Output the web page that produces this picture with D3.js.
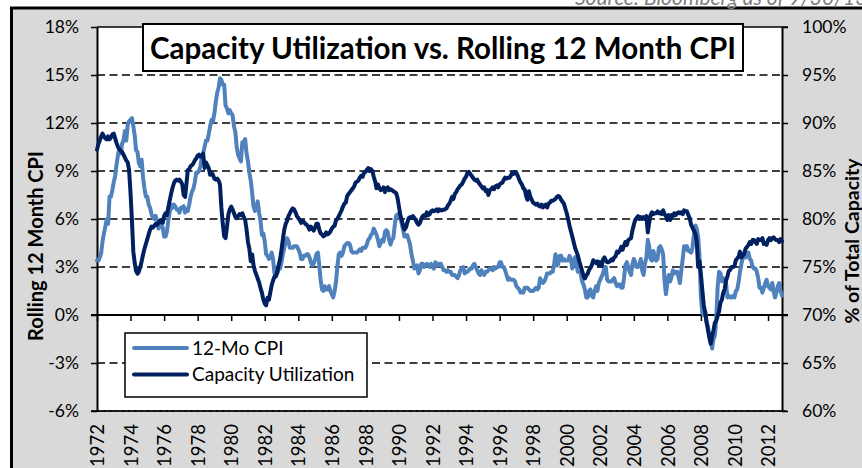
<!DOCTYPE html>
<html>
<head>
<meta charset="utf-8">
<script src="https://cdn.jsdelivr.net/npm/d3@7"></script>
<style>
  html, body { margin: 0; padding: 0; background: #fff; }
  svg { display: block; font-family: Lato, "Open Sans", sans-serif; }
</style>
</head>
<body>
<svg id="chart" width="862" height="468"></svg>
<script>
// ---- Data: monthly, starting November 1972 ----
const seriesStart = "1972-11";

// CPI, year-over-year % change
const cpi = [
  3.4, 3.4,                                                        // 1972 (Nov-Dec)
  3.6, 3.9, 4.6, 5.1, 5.5, 6.0, 5.7, 7.4, 7.4, 7.8, 8.3, 8.7,      // 1973
  9.4, 10.0, 10.4, 10.1, 10.7, 10.9, 11.5, 10.9, 11.9, 12.1, 12.2, 12.3, // 1974
  11.8, 11.2, 10.3, 10.2, 9.5, 9.3, 9.7, 8.6, 7.9, 7.4, 7.4, 6.9,  // 1975
  6.7, 6.3, 6.1, 6.0, 6.2, 5.9, 5.4, 5.7, 5.5, 5.5, 4.9, 4.9,      // 1976
  5.2, 5.9, 6.4, 6.9, 6.7, 6.9, 6.8, 6.6, 6.6, 6.4, 6.7, 6.7,      // 1977
  6.8, 6.4, 6.6, 6.5, 6.9, 7.4, 7.7, 7.9, 8.3, 8.9, 8.9, 9.0,      // 1978
  9.3, 9.9, 10.1, 10.5, 10.9, 10.9, 11.3, 11.8, 12.2, 12.1, 12.6, 13.3, // 1979
  13.9, 14.2, 14.8, 14.7, 14.4, 14.4, 13.1, 12.9, 12.6, 12.8, 12.6, 12.5, // 1980
  11.8, 11.4, 10.5, 10.0, 9.8, 9.6, 10.8, 10.8, 11.0, 10.1, 9.6, 8.9, // 1981
  8.4, 7.6, 6.8, 6.5, 6.7, 7.1, 6.4, 5.9, 5.0, 5.1, 4.6, 3.8,      // 1982
  3.7, 3.5, 3.6, 3.9, 3.5, 2.6, 2.5, 2.6, 2.9, 2.9, 3.3, 3.8,      // 1983
  4.2, 4.6, 4.8, 4.6, 4.2, 4.2, 4.2, 4.3, 4.3, 4.3, 4.1, 3.9,      // 1984
  3.5, 3.5, 3.7, 3.7, 3.8, 3.8, 3.6, 3.3, 3.1, 3.2, 3.5, 3.8,      // 1985
  3.9, 3.1, 2.2, 1.6, 1.5, 1.8, 1.6, 1.6, 1.8, 1.5, 1.3, 1.1,      // 1986
  1.5, 2.1, 3.0, 3.8, 3.9, 3.7, 3.9, 4.3, 4.4, 4.5, 4.5, 4.4,      // 1987
  4.0, 3.9, 3.9, 3.9, 3.9, 4.0, 4.1, 4.0, 4.2, 4.2, 4.2, 4.4,      // 1988
  4.7, 4.8, 5.0, 5.1, 5.4, 5.2, 5.0, 4.7, 4.3, 4.5, 4.7, 4.6,      // 1989
  5.2, 5.3, 5.2, 4.7, 4.4, 4.7, 4.8, 5.6, 6.2, 6.3, 6.3, 6.1,      // 1990
  5.7, 5.3, 4.9, 4.9, 5.0, 4.7, 4.4, 3.8, 3.4, 2.9, 3.0, 3.1,      // 1991
  2.6, 2.8, 3.2, 3.2, 3.0, 3.1, 3.2, 3.1, 3.0, 3.2, 3.0, 2.9,      // 1992
  3.3, 3.2, 3.1, 3.2, 3.2, 3.0, 2.8, 2.8, 2.7, 2.8, 2.7, 2.7,      // 1993
  2.5, 2.5, 2.5, 2.4, 2.3, 2.5, 2.8, 2.9, 3.0, 2.6, 2.7, 2.7,      // 1994
  2.8, 2.9, 2.9, 3.1, 3.2, 3.0, 2.8, 2.6, 2.5, 2.8, 2.6, 2.5,      // 1995
  2.7, 2.7, 2.8, 2.9, 2.9, 2.8, 3.0, 2.9, 3.0, 3.0, 3.3, 3.3,      // 1996
  3.0, 3.0, 2.8, 2.5, 2.2, 2.3, 2.2, 2.2, 2.2, 2.1, 1.8, 1.7,      // 1997
  1.6, 1.4, 1.4, 1.4, 1.7, 1.7, 1.7, 1.6, 1.5, 1.5, 1.5, 1.6,      // 1998
  1.7, 1.6, 1.7, 2.3, 2.1, 2.0, 2.1, 2.3, 2.6, 2.6, 2.6, 2.7,      // 1999
  2.7, 3.2, 3.8, 3.1, 3.2, 3.7, 3.7, 3.4, 3.5, 3.4, 3.4, 3.4,      // 2000
  3.7, 3.5, 2.9, 3.3, 3.6, 3.2, 2.7, 2.7, 2.6, 2.1, 1.9, 1.6,      // 2001
  1.1, 1.1, 1.5, 1.6, 1.2, 1.1, 1.5, 1.8, 1.5, 2.0, 2.2, 2.4,      // 2002
  2.6, 3.0, 3.0, 2.2, 2.1, 2.1, 2.1, 2.2, 2.3, 2.0, 1.8, 1.9,      // 2003
  1.9, 1.7, 1.7, 2.3, 3.1, 3.3, 3.0, 2.7, 2.5, 3.2, 3.5, 3.3,      // 2004
  3.0, 3.0, 3.1, 3.5, 2.8, 2.5, 3.2, 3.6, 4.7, 4.3, 3.5, 3.4,      // 2005
  4.0, 3.6, 3.4, 3.5, 4.2, 4.3, 4.1, 3.8, 2.1, 1.3, 2.0, 2.5,      // 2006
  2.1, 2.4, 2.8, 2.6, 2.7, 2.7, 2.4, 2.0, 2.8, 3.5, 4.3, 4.1,      // 2007
  4.3, 4.0, 4.0, 3.9, 4.2, 5.0, 5.6, 5.4, 4.9, 3.7, 1.1, 0.1,      // 2008
  0.0, 0.2, -0.4, -0.7, -1.3, -1.4, -2.1, -1.5, -1.3, -0.2, 1.8, 2.7, // 2009
  2.6, 2.1, 2.3, 2.2, 2.0, 1.1, 1.2, 1.1, 1.1, 1.2, 1.1, 1.5,      // 2010
  1.6, 2.1, 2.7, 3.2, 3.6, 3.6, 3.6, 3.8, 3.9, 3.5, 3.4, 3.0,      // 2011
  2.9, 2.9, 2.7, 2.3, 1.7, 1.7, 1.4, 1.7, 2.0, 2.2, 1.8, 1.7,      // 2012
  1.6, 2.0, 1.5, 1.1, 1.4, 1.8, 2.0, 1.5, 1.2                      // 2013 (Jan-Sep)
];

// Capacity utilization, % of total capacity
const capacity = [
  87.2, 87.8,                                                      // 1972 (Nov-Dec)
  88.2, 88.6, 88.9, 88.6, 88.4, 88.3, 88.6, 88.3, 88.5, 88.8, 88.9, 88.4, // 1973
  87.9, 87.5, 87.3, 87.1, 87.0, 86.7, 86.4, 86.1, 85.9, 85.1, 82.7, 79.9, // 1974
  76.6, 75.4, 74.6, 74.3, 74.5, 75.0, 75.6, 76.3, 76.9, 77.4, 77.9, 78.4, // 1975
  78.9, 79.2, 79.1, 79.3, 79.5, 79.4, 79.6, 79.8, 79.7, 79.6, 80.3, 80.6, // 1976
  80.4, 81.2, 81.9, 82.6, 83.2, 83.7, 84.0, 84.1, 84.0, 84.1, 83.9, 83.6, // 1977
  82.5, 82.3, 83.6, 85.1, 85.2, 85.5, 85.6, 85.8, 86.1, 86.3, 86.6, 86.7, // 1978
  86.5, 86.6, 86.8, 85.3, 85.9, 85.6, 85.3, 84.6, 84.8, 84.6, 84.2, 84.1, // 1979
  84.2, 84.0, 83.6, 81.2, 79.5, 78.2, 78.0, 79.2, 80.5, 81.0, 81.3, 81.0, // 1980
  80.6, 80.2, 80.1, 80.3, 80.5, 80.4, 80.6, 80.2, 79.9, 78.9, 77.6, 76.9, // 1981
  75.6, 76.3, 75.2, 74.6, 74.2, 73.8, 73.4, 72.8, 72.3, 71.6, 71.2, 71.0, // 1982
  71.8, 71.6, 72.3, 73.1, 73.6, 74.0, 74.0, 74.5, 75.2, 75.8, 76.8, 77.9, // 1983
  78.9, 79.5, 79.8, 80.3, 80.6, 80.9, 81.1, 81.0, 80.7, 80.3, 80.1, 79.9, // 1984
  79.6, 79.8, 79.7, 79.5, 79.4, 79.2, 78.9, 79.2, 79.0, 78.8, 79.1, 79.5, // 1985
  79.5, 78.9, 78.5, 78.4, 78.2, 78.3, 78.6, 78.4, 78.5, 78.7, 79.0, 79.2, // 1986
  79.3, 79.9, 80.0, 80.3, 80.6, 80.9, 81.3, 81.6, 81.7, 82.4, 82.6, 82.8, // 1987
  83.0, 83.2, 83.4, 83.8, 83.9, 84.0, 84.3, 84.5, 84.4, 84.8, 84.9, 85.1, // 1988
  85.3, 85.0, 85.2, 85.0, 84.4, 83.9, 83.2, 83.6, 83.2, 83.0, 83.1, 83.3, // 1989
  82.8, 83.2, 83.3, 83.0, 83.1, 83.0, 82.9, 82.8, 82.7, 82.2, 81.3, 80.4, // 1990
  79.9, 79.3, 78.9, 79.1, 79.6, 80.1, 80.2, 80.1, 80.3, 80.1, 79.9, 79.6, // 1991
  79.4, 79.6, 80.0, 80.3, 80.4, 80.3, 80.7, 80.4, 80.5, 80.8, 80.9, 80.8, // 1992
  80.9, 81.0, 80.8, 81.0, 80.9, 80.9, 81.0, 81.0, 81.1, 81.4, 81.6, 81.9, // 1993
  82.3, 82.1, 82.6, 82.8, 83.1, 83.3, 83.5, 83.6, 83.9, 84.2, 84.4, 84.8, // 1994
  84.9, 84.7, 84.5, 84.3, 84.1, 84.0, 84.1, 83.8, 83.6, 83.4, 83.2, 83.3, // 1995
  82.9, 83.0, 82.5, 83.0, 83.1, 83.3, 83.1, 83.4, 83.5, 83.3, 83.6, 83.7, // 1996
  83.8, 84.1, 84.3, 84.2, 84.3, 84.3, 84.5, 84.8, 84.7, 84.9, 84.8, 84.5, // 1997
  84.1, 83.8, 83.6, 83.2, 83.1, 82.4, 82.0, 82.9, 82.3, 82.0, 81.7, 81.6, // 1998
  81.5, 81.6, 81.4, 81.3, 81.5, 81.2, 81.4, 81.5, 81.2, 81.6, 81.7, 81.9, // 1999
  81.9, 82.0, 82.1, 82.3, 82.4, 82.3, 82.0, 81.8, 81.6, 81.1, 80.6, 80.0, // 2000
  79.3, 78.7, 78.2, 77.6, 77.0, 76.6, 76.2, 75.6, 75.1, 74.6, 74.1, 73.8, // 2001
  74.1, 74.3, 74.7, 74.9, 75.2, 75.7, 75.5, 75.4, 75.6, 75.2, 75.5, 75.1, // 2002
  75.8, 76.0, 75.7, 75.5, 75.5, 75.6, 75.8, 75.7, 76.0, 76.1, 76.6, 76.5, // 2003
  76.7, 77.1, 76.8, 77.2, 77.6, 77.3, 77.8, 77.9, 78.0, 78.8, 79.4, 79.9, // 2004
  80.1, 80.3, 80.0, 80.2, 80.0, 80.2, 80.0, 80.3, 78.6, 79.6, 80.4, 80.7, // 2005
  80.5, 80.6, 80.6, 80.8, 80.6, 80.7, 80.5, 80.9, 80.5, 80.3, 79.9, 80.4, // 2006
  79.9, 80.4, 80.3, 80.6, 80.4, 80.6, 80.7, 80.6, 80.7, 80.5, 80.9, 80.8, // 2007
  80.8, 80.4, 80.1, 79.4, 79.1, 78.8, 78.5, 77.7, 75.0, 75.6, 74.2, 72.6, // 2008
  71.0, 70.3, 69.3, 68.5, 67.7, 67.0, 67.8, 68.4, 69.2, 69.4, 69.9, 70.4, // 2009
  71.3, 71.6, 72.3, 72.7, 73.6, 74.0, 74.6, 74.7, 75.0, 75.0, 75.1, 75.7, // 2010
  75.9, 76.1, 76.6, 76.0, 76.2, 76.4, 76.9, 77.1, 77.3, 77.6, 77.4, 77.8, // 2011
  77.8, 77.6, 77.4, 77.9, 77.8, 77.8, 78.0, 77.4, 77.5, 77.3, 77.8, 78.0, // 2012
  77.8, 78.0, 78.1, 77.9, 77.8, 77.8, 77.6, 77.9, 77.7             // 2013 (Jan-Sep)
];

const cpiTicks = [-6, -3, 0, 3, 6, 9, 12, 15, 18];
const capacityTicks = [60, 65, 70, 75, 80, 85, 90, 95, 100];
const yearLabels = ["1972", "1974", "1976", "1978", "1980", "1982", "1984", "1986", "1988",
  "1990", "1992", "1994", "1996", "1998", "2000", "2002", "2004", "2006", "2008", "2010", "2012"];
const seriesNames = ["12-Mo CPI", "Capacity Utilization"];
const seriesColors = ["#4f81bd", "#002060"];
const titleText = "Capacity Utilization vs. Rolling 12 Month CPI";
const leftAxisTitle = "Rolling 12 Month CPI";
const rightAxisTitle = "% of Total Capacity";
const sourceText = "Source: Bloomberg as of 9/30/13";

// ---- Layout ----
const W = 862, H = 468;
const plot = { l: 97, r: 782, t: 27, b: 411 };

const svg = d3.select("#chart");

const t0 = d3.timeParse("%Y-%m")(seriesStart);
const dates = cpi.map((_, i) => d3.timeMonth.offset(t0, i));

const x = d3.scaleTime().domain([dates[0], dates[dates.length - 1]]).range([plot.l, plot.r]);
const yL = d3.scaleLinear().domain([-6, 18]).range([plot.b, plot.t]);
const yR = d3.scaleLinear().domain([60, 100]).range([plot.b, plot.t]);

// Page background and the grey chart frame
svg.append("rect").attr("width", W).attr("height", H).attr("fill", "#fff");
svg.append("rect")
  .attr("x", 11.5).attr("y", 8).attr("width", W + 20).attr("height", H + 20)
  .attr("fill", "#d9d9d9").attr("stroke", "#000").attr("stroke-width", 3);

// Source note, above the frame
svg.append("text")
  .attr("x", 575).attr("y", 5)
  .attr("font-size", 21).attr("font-style", "italic").attr("fill", "#7f7f7f")
  .text(sourceText);

// Plot area
svg.append("rect")
  .attr("x", plot.l).attr("y", plot.t)
  .attr("width", plot.r - plot.l).attr("height", plot.b - plot.t)
  .attr("fill", "#fff");

// Top and bottom edges of the plot area
svg.append("line").attr("x1", plot.l).attr("x2", plot.r + 6)
  .attr("y1", plot.t).attr("y2", plot.t).attr("stroke", "#000").attr("stroke-width", 1.5);
svg.append("line").attr("x1", plot.l).attr("x2", plot.r)
  .attr("y1", plot.b).attr("y2", plot.b).attr("stroke", "#000").attr("stroke-width", 1);

// Dashed gridlines
svg.append("g").selectAll("line")
  .data(cpiTicks.filter(d => d !== 0 && d !== 18))
  .join("line")
  .attr("x1", plot.l).attr("x2", plot.r)
  .attr("y1", d => yL(d)).attr("y2", d => yL(d))
  .attr("stroke", "#000").attr("stroke-width", 1.6)
  .attr("stroke-dasharray", "8,4.5");

// Left axis
const leftAxis = svg.append("g")
  .attr("transform", `translate(${plot.l},0)`)
  .call(d3.axisLeft(yL).tickValues(cpiTicks).tickSize(6).tickSizeOuter(0)
    .tickPadding(12).tickFormat(d => d + "%"));
leftAxis.select(".domain").attr("stroke", "#000").attr("stroke-width", 2);
leftAxis.selectAll(".tick line").attr("stroke", "#000").attr("stroke-width", 1.5);
leftAxis.selectAll(".tick text")
  .attr("font-family", "Lato, sans-serif").attr("font-size", 17.5).attr("fill", "#000");

// Right axis
const rightAxis = svg.append("g")
  .attr("transform", `translate(${plot.r},0)`)
  .call(d3.axisRight(yR).tickValues(capacityTicks).tickSize(6).tickSizeOuter(0)
    .tickPadding(14).tickFormat(d => d + "%"));
rightAxis.select(".domain").attr("stroke", "#000").attr("stroke-width", 2);
rightAxis.selectAll(".tick line").attr("stroke", "#000").attr("stroke-width", 1.5);
rightAxis.selectAll(".tick text")
  .attr("font-family", "Lato, sans-serif").attr("font-size", 17.5).attr("fill", "#000");

// Horizontal axis on the 0% line, with year ticks
const tickDates = yearLabels.map(y => new Date(+y, 10, 1));
const xAxis = svg.append("g")
  .attr("transform", `translate(0,${yL(0)})`)
  .call(d3.axisBottom(x).tickValues(tickDates).tickSize(6).tickSizeOuter(0).tickFormat(""));
xAxis.select(".domain").attr("stroke", "#000").attr("stroke-width", 2)
  .attr("d", `M${plot.l - 6},0H${plot.r + 6}`);
xAxis.selectAll(".tick line").attr("stroke", "#000").attr("stroke-width", 1.5);

// Year labels below the plot, rotated
const xLabels = svg.append("g")
  .attr("transform", `translate(0,${plot.b})`)
  .call(d3.axisBottom(x).tickValues(tickDates).tickSize(0).tickFormat(d3.timeFormat("%Y")));
xLabels.select(".domain").remove();
xLabels.selectAll(".tick text")
  .attr("transform", "rotate(-90)")
  .attr("text-anchor", "end")
  .attr("x", -13).attr("y", 0).attr("dy", "0.36em")
  .attr("font-family", "Lato, sans-serif").attr("font-size", 18.5).attr("fill", "#000");

// Dashed gridline over the bottom edge
svg.append("line").attr("x1", plot.l - 6).attr("x2", plot.r + 6)
  .attr("y1", plot.b).attr("y2", plot.b)
  .attr("stroke", "#000").attr("stroke-width", 1.6).attr("stroke-dasharray", "8,4.5");

// Series lines
const cpiLine = d3.line().x((d, i) => x(dates[i])).y(d => yL(d));
const capLine = d3.line().x((d, i) => x(dates[i])).y(d => yR(d));

svg.append("path").datum(cpi)
  .attr("d", cpiLine).attr("fill", "none")
  .attr("stroke", seriesColors[0]).attr("stroke-width", 4)
  .attr("stroke-linejoin", "round").attr("stroke-linecap", "round");
svg.append("path").datum(capacity)
  .attr("d", capLine).attr("fill", "none")
  .attr("stroke", seriesColors[1]).attr("stroke-width", 4)
  .attr("stroke-linejoin", "round").attr("stroke-linecap", "round");

// Title box
svg.append("rect")
  .attr("x", 143).attr("y", 24).attr("width", 600).attr("height", 47)
  .attr("fill", "#fff").attr("stroke", "#000").attr("stroke-width", 2);
svg.append("text")
  .attr("x", 443).attr("y", 48).attr("dy", "0.36em")
  .attr("text-anchor", "middle")
  .attr("font-size", 29.5).attr("font-weight", "bold").attr("fill", "#000")
  .text(titleText);

// Axis titles
svg.append("text")
  .attr("transform", "translate(42.5,246) rotate(-90)")
  .attr("text-anchor", "middle")
  .attr("font-size", 20).attr("font-weight", "bold").attr("fill", "#000")
  .text(leftAxisTitle);
svg.append("text")
  .attr("transform", "translate(858.5,241) rotate(-90)")
  .attr("text-anchor", "middle")
  .attr("font-size", 19.5).attr("font-weight", "bold").attr("fill", "#000")
  .text(rightAxisTitle);

// Legend
const legend = svg.append("g");
legend.append("rect")
  .attr("x", 125).attr("y", 333).attr("width", 242).attr("height", 64)
  .attr("fill", "#fff").attr("stroke", "#000").attr("stroke-width", 1.5);
const rows = legend.selectAll("g.row")
  .data(seriesNames)
  .join("g").attr("class", "row")
  .attr("transform", (d, i) => `translate(0,${348 + i * 26.5})`);
rows.append("line")
  .attr("x1", 134).attr("x2", 187)
  .attr("stroke", (d, i) => seriesColors[i]).attr("stroke-width", 4)
  .attr("stroke-linecap", "round");
rows.append("text")
  .attr("x", 192).attr("dy", "0.36em")
  .attr("font-size", 19).attr("fill", "#000")
  .text(d => d);
</script>
</body>
</html>
